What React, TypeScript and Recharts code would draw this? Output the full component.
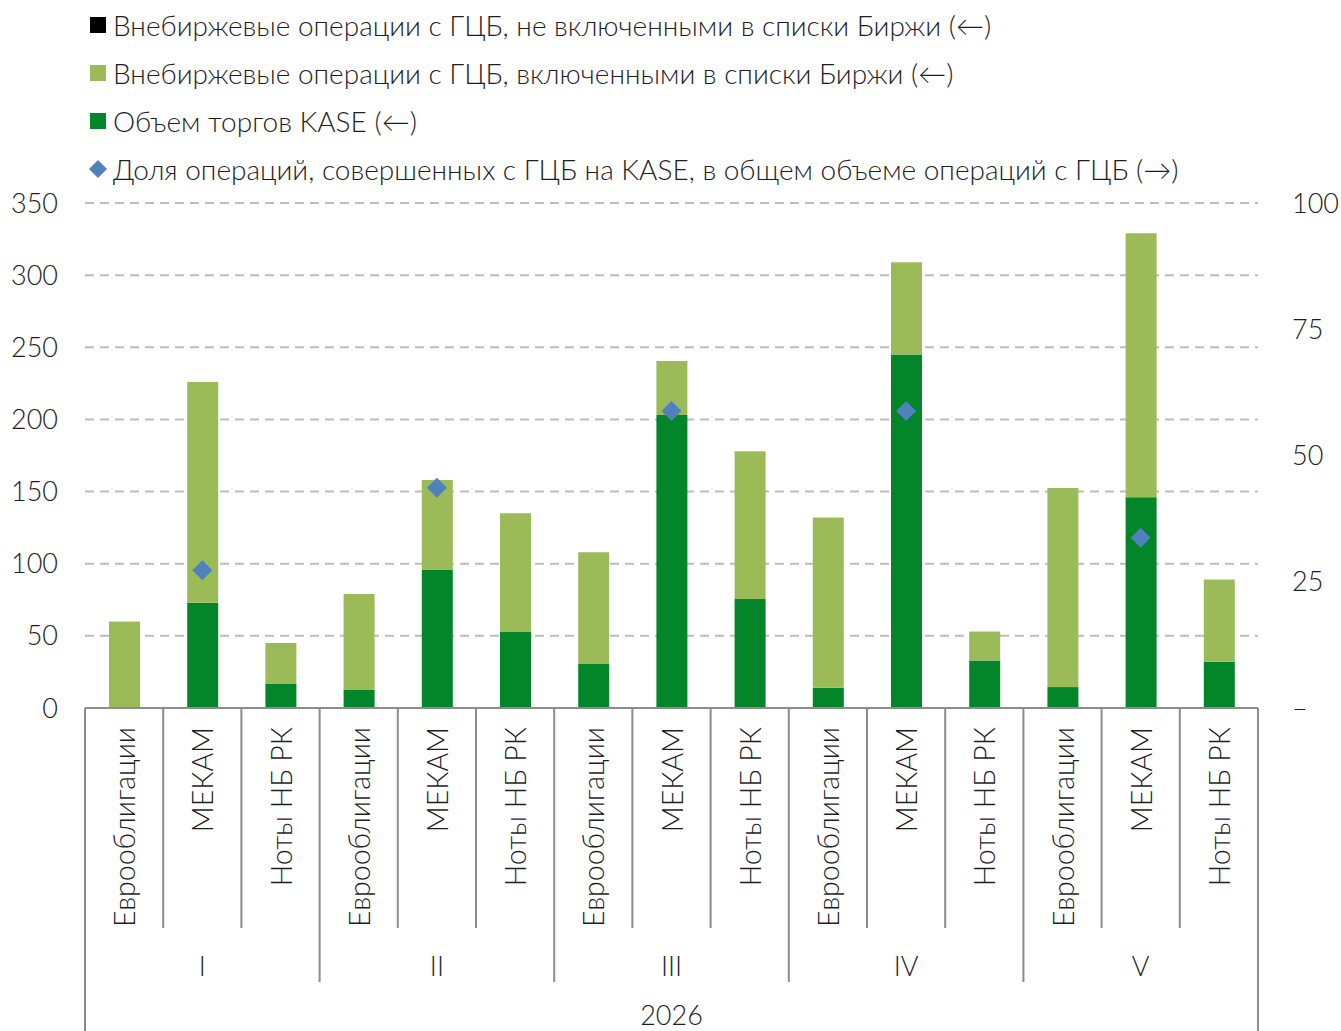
import { ComposedChart, Bar, Scatter, XAxis, YAxis, CartesianGrid } from "recharts";

// categories and groups
const instruments = ["Еврооблигации", "МЕКАМ", "Ноты НБ РК"];
const groups = ["I", "II", "III", "IV", "V"];
const yearLabel = "2026";

// left axis, bln tenge
const kaseVolume = [0, 73, 17, 12.5, 96, 53, 30.5, 203, 75.5, 14, 245, 33, 14.5, 146, 32];
const otcListed = [60, 153, 28, 66.5, 62, 82, 77.5, 37.5, 102.5, 118, 64, 20, 138, 183, 57];
const otcNotListed = [0, 0, 0, 0, 0, 0, 0, 0, 0, 0, 0, 0, 0, 0, 0];
// right axis, %
const kaseShare: (number | null)[] = [null, 27.3, null, null, 43.6, null, null, 58.8, null, null, 58.8, null, null, 33.7, null];

const leftTicks = [0, 50, 100, 150, 200, 250, 300, 350];
const rightTicks = [0, 25, 50, 75, 100];

const legendItems = [
  { label: "Внебиржевые операции с ГЦБ, не включенными в списки Биржи (←)", color: "#000000", marker: "square" },
  { label: "Внебиржевые операции с ГЦБ, включенными в списки Биржи (←)", color: "#9BBB59", marker: "square" },
  { label: "Объем торгов KASE (←)", color: "#03852A", marker: "square" },
  { label: "Доля операций, совершенных с ГЦБ на KASE, в общем объеме операций с ГЦБ (→)", color: "#4F81BD", marker: "diamond" },
];

const data = groups.flatMap((g, gi) =>
  instruments.map((name, ii) => {
    const i = gi * 3 + ii;
    return {
      key: `${g}-${name}`,
      name,
      group: g,
      kase: kaseVolume[i],
      listed: otcListed[i],
      notListed: otcNotListed[i],
      share: kaseShare[i],
    };
  })
);

const W = 1341;
const H = 1031;
const PLOT_L = 85;
const PLOT_R = 1258;
const AXIS_Y = 708;
const BAND = (PLOT_R - PLOT_L) / data.length;
const FONT = "Lato, 'Noto Sans', sans-serif";
const TEXT = "#1e1e1e";
const LINE = "#8c8c8c";

function CatTick(props: any) {
  const { x } = props;
  const index = props.index ?? props.payload?.index ?? 0;
  const d = data[index];
  const left = x - BAND / 2;
  const sepBottom = index === 0 ? H : index % 3 === 0 ? 982 : 928;
  return (
    <g>
      <text
        transform={`translate(${x},${AXIS_Y + 19}) rotate(-90)`}
        textAnchor="end"
        dominantBaseline="central"
        fontSize={28.5}
        fontWeight={300}
        fontFamily={FONT}
        fill={TEXT}
      >
        {d.name}
      </text>
      <line x1={left} y1={AXIS_Y} x2={left} y2={sepBottom} stroke={LINE} strokeWidth={2} />
      {index === data.length - 1 && (
        <line x1={x + BAND / 2} y1={AXIS_Y} x2={x + BAND / 2} y2={H} stroke={LINE} strokeWidth={2} />
      )}
      {index % 3 === 1 && (
        <text x={x} y={965} textAnchor="middle" dominantBaseline="central" fontSize={27} fontWeight={300} fontFamily={FONT} fill={TEXT}>
          {d.group}
        </text>
      )}
      {index === Math.floor(data.length / 2) && (
        <text x={x} y={1014} textAnchor="middle" dominantBaseline="central" fontSize={27} fontWeight={300} fontFamily={FONT} fill={TEXT}>
          {yearLabel}
        </text>
      )}
    </g>
  );
}

function Diamond(props: any) {
  const { cx, cy, payload } = props;
  if (payload?.share == null || cx == null || cy == null || isNaN(cy)) return null;
  const r = 10;
  return <path d={`M${cx},${cy - r}L${cx + r},${cy}L${cx},${cy + r}L${cx - r},${cy}Z`} fill="#4F81BD" />;
}

export default function App() {
  return (
    <div style={{ position: "absolute", left: 0, top: 0, width: W, height: H, background: "#fff", fontFamily: FONT }}>
      <div style={{ position: "absolute", left: 0, top: 0 }}>
        {legendItems.map((item, i) => (
          <div
            key={item.label}
            style={{
              position: "absolute",
              left: 88,
              top: 25 + i * 48 - 18,
              height: 36,
              display: "flex",
              alignItems: "center",
              whiteSpace: "nowrap",
              fontSize: 28,
              fontWeight: 300,
              color: TEXT,
            }}
          >
            {item.marker === "square" ? (
              <span style={{ display: "inline-block", width: 16, height: 16, background: item.color, marginLeft: 2, marginRight: 7 }} />
            ) : (
              <svg width={20} height={20} style={{ marginRight: 5 }}>
                <path d="M10,1L19,10L10,19L1,10Z" fill={item.color} />
              </svg>
            )}
            <span>{item.label}</span>
          </div>
        ))}
      </div>
      <ComposedChart
        width={W}
        height={H}
        data={data}
        margin={{ top: 203, right: 0, bottom: 0, left: 0 }}
        barSize={31}
        style={{ position: "absolute", left: 0, top: 0 }}
      >
        <CartesianGrid yAxisId="left" vertical={false} stroke="#bdbdbd" strokeWidth={2} strokeDasharray="9 6" />
        <XAxis
          dataKey="key"
          interval={0}
          height={H - AXIS_Y}
          tickSize={0}
          tickLine={false}
          axisLine={{ stroke: LINE, strokeWidth: 2 }}
          tick={<CatTick />}
        />
        <YAxis
          yAxisId="left"
          domain={[0, 350]}
          ticks={leftTicks}
          width={PLOT_L}
          axisLine={false}
          tickLine={false}
          tickSize={0}
          tickMargin={27}
          tick={{ fontSize: 27, fontWeight: 300, fontFamily: FONT, fill: TEXT }}
        />
        <YAxis
          yAxisId="right"
          orientation="right"
          domain={[0, 100]}
          ticks={rightTicks}
          width={W - PLOT_R}
          axisLine={false}
          tickLine={false}
          tickSize={0}
          tickMargin={34}
          tickFormatter={(v: number) => (v === 0 ? "–" : String(v))}
          tick={{ fontSize: 27, fontWeight: 300, fontFamily: FONT, fill: TEXT }}
        />
        <Bar yAxisId="left" dataKey="kase" stackId="a" fill="#03852A" isAnimationActive={false} />
        <Bar yAxisId="left" dataKey="listed" stackId="a" fill="#9BBB59" isAnimationActive={false} />
        <Bar yAxisId="left" dataKey="notListed" stackId="a" fill="#000000" isAnimationActive={false} />
        <Scatter yAxisId="right" dataKey="share" shape={<Diamond />} isAnimationActive={false} />
      </ComposedChart>
    </div>
  );
}
